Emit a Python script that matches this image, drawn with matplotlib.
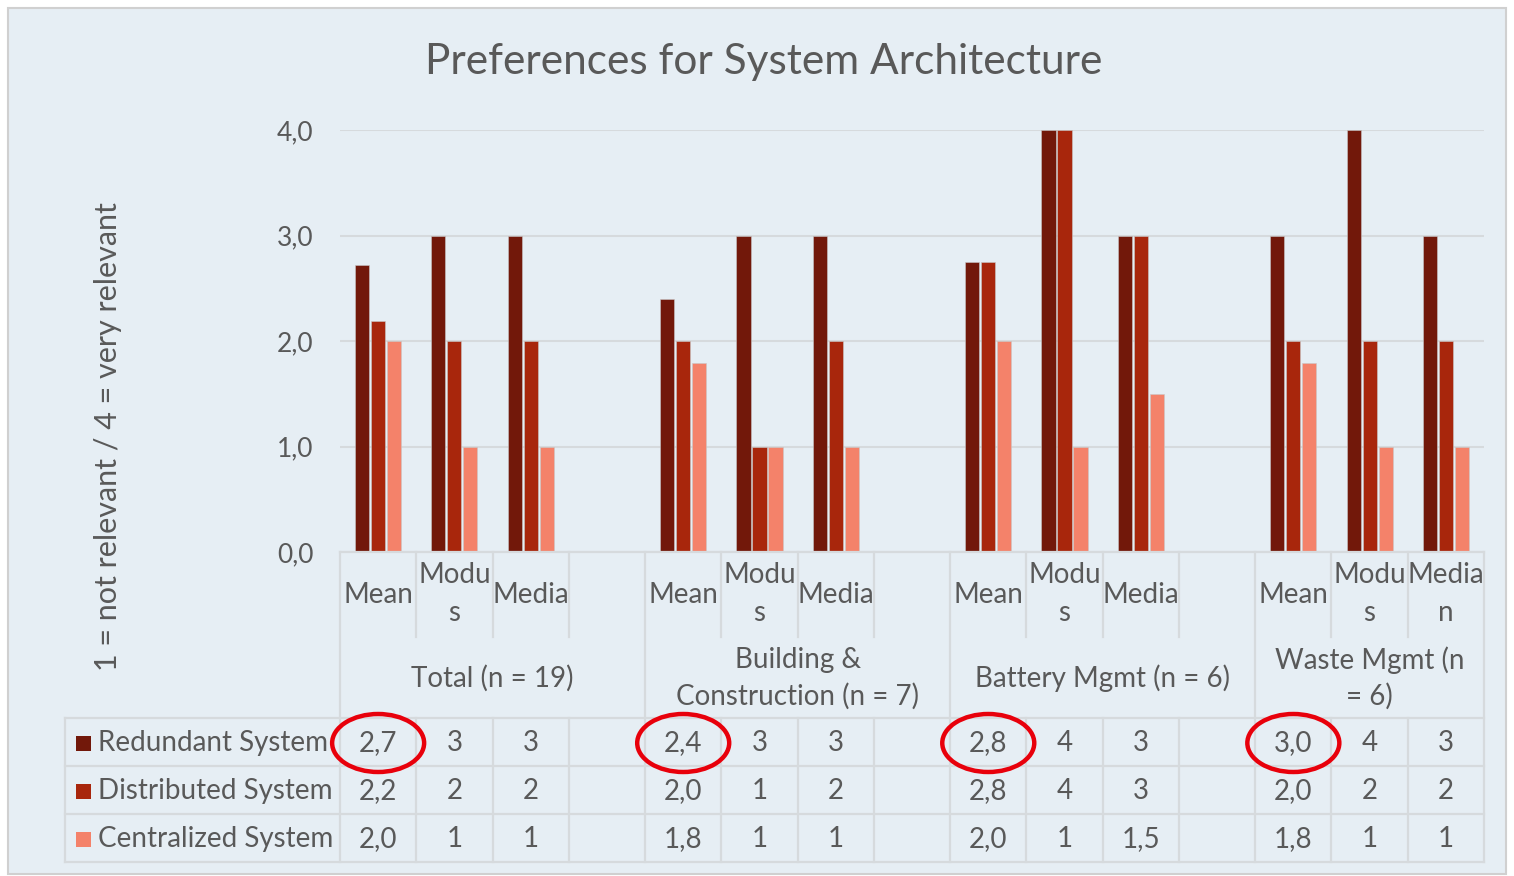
import numpy as np
import matplotlib
matplotlib.use("Agg")
import matplotlib.pyplot as plt
from matplotlib.lines import Line2D
from matplotlib.patches import Rectangle, Ellipse
from matplotlib.transforms import blended_transform_factory

plt.rcParams['font.family'] = ['Lato', 'DejaVu Sans']

# data
groups = ["Total (n = 19)", "Building &\nConstruction (n = 7)",
          "Battery Mgmt (n = 6)", "Waste Mgmt (n\n= 6)"]
stat_labels = ["Mean", "Modu\ns", "Media"]
last_stat_labels = ["Mean", "Modu\ns", "Media\nn"]
series = ["Redundant System", "Distributed System", "Centralized System"]
redundant = [2.72, 3, 3, 2.40, 3, 3, 2.75, 4, 3, 3.0, 4, 3]
distributed = [2.19, 2, 2, 2.0, 1, 2, 2.75, 4, 3, 2.0, 2, 2]
centralized = [2.0, 1, 1, 1.79, 1, 1, 2.0, 1, 1.5, 1.79, 1, 1]
colors = ["#72180A", "#A8260C", "#F4826A"]

W, H = 1514, 876
BG = "#E6EEF4"
GRID = "#D6DADD"
TXT = "#595959"

def fx(x):
    return x / W

def fy(y):
    return 1 - y / H

fig = plt.figure(figsize=(W / 100, H / 100), dpi=100)
fig.patch.set_facecolor("white")
fig.add_artist(Rectangle((fx(8), fy(874)), fx(1506) - fx(8), fy(8) - fy(874),
                         transform=fig.transFigure, facecolor=BG,
                         edgecolor="#D0D0D0", linewidth=1.5, zorder=0))

ax = fig.add_axes([fx(340), fy(552), fx(1484) - fx(340), fy(130) - fy(552)])
ax.set_facecolor("none")

# category positions: 4 slots per group, last slot blank (except last group)
pos = []
for g in range(len(groups)):
    for j in range(3):
        pos.append(g * 4 + j)
pos = np.array(pos)
ncat = 15

off = 0.21
bw = 0.185
for k, vals in enumerate([redundant, distributed, centralized]):
    ax.bar(pos + (k - 1) * off, vals, width=bw, color=colors[k],
           edgecolor="#C8C8C8", linewidth=0.4, zorder=3)

ax.set_xlim(-0.5, ncat - 0.5)
ax.set_ylim(0, 4)
ax.set_yticks([0, 1, 2, 3, 4])
ax.set_yticklabels(["0,0", "1,0", "2,0", "3,0", "4,0"], fontsize=19, color=TXT)
ax.yaxis.grid(True, color=GRID, linewidth=1.5, zorder=0)
ax.tick_params(axis="y", length=0, pad=19)
ax.set_xticks([])
for s in ax.spines.values():
    s.set_visible(False)

fig.text(fx(764), fy(62), "Preferences for System Architecture", fontsize=30.5,
         color=TXT, ha="center", va="center")
fig.text(fx(108), fy(437), "1 = not relevant / 4 = very relevant", fontsize=22,
         color=TXT, ha="center", va="center", rotation=90)

# table drawn below the axis, x follows the category scale
tr = blended_transform_factory(ax.transData, fig.transFigure)
LW = 1.6

def hline(x0, x1, y):
    fig.add_artist(Line2D([fx(x0), fx(x1)], [fy(y), fy(y)],
                          transform=fig.transFigure, color=GRID, lw=LW))

def vline(x, y0, y1):
    fig.add_artist(Line2D([x, x], [fy(y0), fy(y1)], transform=tr,
                          color=GRID, lw=LW))

hline(340, 1484, 552)
for y in [718, 766, 814, 862]:
    hline(65, 1484, y)
fig.add_artist(Line2D([fx(65), fx(65)], [fy(718), fy(862)],
                      transform=fig.transFigure, color=GRID, lw=LW))

for c in range(ncat + 1):
    xb = c - 0.5
    if c % 4 == 0 or c == ncat:
        vline(xb, 552, 862)
    else:
        vline(xb, 552, 637)
        vline(xb, 718, 862)

fs = 20
for g, name in enumerate(groups):
    labs = stat_labels if g < 3 else last_stat_labels
    for j in range(3):
        x = g * 4 + j
        lines = labs[j].split("\n")
        if len(lines) == 1:
            fig.text(x, fy(595), lines[0], transform=tr, fontsize=fs, color=TXT,
                     ha="center", va="center")
        else:
            fig.text(x, fy(575), lines[0], transform=tr, fontsize=fs, color=TXT,
                     ha="center", va="center")
            fig.text(x, fy(613), lines[1], transform=tr, fontsize=fs, color=TXT,
                     ha="center", va="center")
    last = g * 4 + (3.5 if g < 3 else 2.5)
    xc = (g * 4 - 0.5 + last) / 2
    gl = name.split("\n")
    if len(gl) == 1:
        fig.text(xc, fy(678), gl[0], transform=tr, fontsize=fs, color=TXT,
                 ha="center", va="center")
    else:
        fig.text(xc, fy(660), gl[0], transform=tr, fontsize=fs, color=TXT,
                 ha="center", va="center")
        fig.text(xc, fy(696), gl[1], transform=tr, fontsize=fs, color=TXT,
                 ha="center", va="center")

def fmt(v, mean):
    if mean:
        return f"{v:.1f}".replace(".", ",")
    if v == int(v):
        return str(int(v))
    return f"{v:g}".replace(".", ",")

row_y = [743, 791, 839]
for k, (name, vals) in enumerate(zip(series, [redundant, distributed, centralized])):
    y = row_y[k]
    fig.add_artist(Rectangle((fx(76), fy(y + 8)), fx(15), fy(0) - fy(15),
                             transform=fig.transFigure, facecolor=colors[k],
                             edgecolor="none"))
    fig.text(fx(98), fy(y), name, fontsize=fs, color=TXT, ha="left", va="center")
    for i, v in enumerate(vals):
        fig.text(pos[i], fy(y), fmt(v, i % 3 == 0), transform=tr, fontsize=fs,
                 color=TXT, ha="center", va="center")

# red circles around the redundant-system means
for i in range(0, len(pos), 3):
    xd = ax.transData.transform((pos[i], 0))[0]
    fig.add_artist(Ellipse((xd / W, fy(743)), fx(92), fy(0) - fy(58),
                           transform=fig.transFigure, fill=False,
                           edgecolor="#E8000B", linewidth=3.2, zorder=5))

fig.savefig("out.png", dpi=100, facecolor="white")
